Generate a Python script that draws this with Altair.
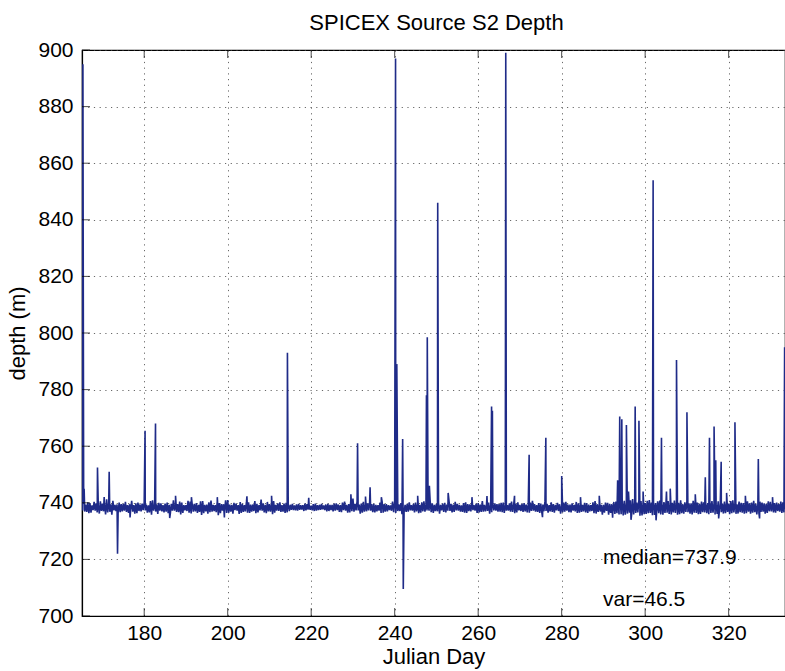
import altair as alt
import pandas as pd

# ---------------- data ----------------
days_start = 165
# four baseline readings per day (at day, +0.25, +0.5, +0.75)
base_hi = [
    740.8, 739.4, 739.9, 740.3, 739.2, 739.7, 741.2, 739.5, 739.3, 740.1,
    739.6, 739.2, 740.7, 739.8, 739.4, 740.2, 739.1, 740.9, 739.5, 739.8,
    739.7, 739.3, 740.9, 739.5, 740.1, 739.2, 740.4, 739.6, 739.3, 740.6,
    739.4, 740.8, 739.2, 739.9, 739.5, 741.0, 739.3, 739.7, 740.3, 739.2,
    740.2, 739.4, 739.6, 741.1, 739.3, 739.5, 740.6, 739.8, 739.2, 740.0,
    739.3, 739.1, 739.6, 739.2, 739.5, 739.0, 739.7, 739.3, 739.1, 739.6,
    739.3, 739.8, 739.2, 740.4, 739.5, 741.5, 740.6, 739.7, 739.3, 740.2,
    739.6, 739.2, 740.3, 739.5, 739.1, 740.2, 739.4, 740.8, 739.6, 739.2,
    740.1, 739.3, 740.5, 739.2, 739.8, 739.5, 739.3, 740.0, 741.0, 739.4,
    739.6, 739.1, 740.2, 739.4, 739.2, 739.9, 740.6, 739.4, 739.3, 739.8,
    739.5, 740.1, 739.2, 740.4, 739.6, 739.3, 739.9, 739.4, 740.7, 739.2,
    739.7, 740.5, 739.2, 739.5, 740.0, 739.1, 740.3, 739.4, 739.3, 739.8,
    739.3, 739.9, 739.2, 740.6, 739.6, 739.3, 740.0, 739.5, 740.4, 741.2,
    740.7, 739.8, 741.3, 740.1, 740.6, 739.9, 741.0, 740.2, 740.5, 739.7,
    740.3, 739.6, 740.8, 740.0, 739.5, 740.5, 739.8, 741.1, 739.6, 740.2,
    739.9, 740.6, 739.4, 740.1, 740.4, 739.7, 740.9, 739.5, 740.0, 740.3,
    739.8, 740.7, 739.4, 740.1, 739.6, 740.3, 739.9, 739.5, 740.2, 739.7,
]
base_lo2 = [
    737.3, 736.8, 736.5, 737.2, 736.2, 737.0, 736.6, 735.8, 737.1, 736.7,
    737.2, 736.4, 736.9, 736.3, 737.0, 737.3, 736.6, 737.2, 736.1, 737.0,
    736.9, 736.1, 737.2, 736.7, 736.4, 737.1, 736.2, 737.0, 736.8, 736.3,
    736.2, 736.9, 736.7, 736.3, 737.1, 736.5, 736.2, 737.2, 736.4, 737.0,
    736.4, 737.1, 736.6, 737.2, 736.3, 736.9, 736.5, 737.1, 736.9, 736.6,
    737.5, 737.3, 737.5, 737.1, 737.6, 737.3, 737.2, 737.5, 737.4, 737.1,
    737.0, 737.4, 736.7, 737.2, 736.6, 736.9, 737.3, 736.5, 737.0, 737.2,
    736.6, 737.2, 736.5, 737.0, 737.2, 736.4, 737.1, 736.7, 736.9, 737.2,
    737.0, 736.5, 736.9, 737.2, 736.4, 737.0, 737.3, 736.6, 737.1, 736.8,
    737.2, 736.8, 736.4, 737.0, 737.2, 736.6, 736.9, 737.1, 736.7, 737.2,
    736.9, 736.4, 737.2, 736.8, 736.6, 737.1, 737.0, 736.5, 737.2, 736.8,
    736.6, 737.1, 737.0, 736.5, 737.1, 736.7, 737.2, 736.6, 737.0, 736.5,
    737.0, 736.4, 737.1, 736.2, 736.9, 736.5, 735.8, 736.7, 736.3, 736.0,
    735.8, 736.5, 735.9, 736.6, 735.5, 736.1, 736.4, 735.7, 736.3, 735.8,
    736.5, 735.9, 736.4, 736.0, 736.2, 736.7, 735.9, 736.4, 736.1, 736.6,
    736.0, 736.5, 736.1, 736.7, 736.3, 736.0, 736.6, 736.2, 736.5, 736.3,
    736.2, 736.7, 736.3, 736.9, 736.4, 737.0, 736.5, 736.9, 736.6, 736.3,
]
base_hi2 = [
    739.6, 740.2, 739.1, 739.8, 740.5, 739.3, 739.9, 740.7, 739.4, 739.5,
    740.3, 739.5, 739.2, 740.1, 739.7, 739.4, 740.6, 739.3, 740.0, 739.2,
    740.1, 739.6, 739.3, 740.4, 739.2, 740.7, 739.5, 739.9, 740.5, 739.3,
    740.2, 739.3, 740.4, 739.5, 740.9, 739.4, 740.0, 739.2, 739.6, 740.4,
    739.4, 740.6, 739.2, 739.8, 740.3, 739.6, 739.3, 740.2, 739.7, 739.4,
    739.6, 739.4, 739.2, 739.7, 739.3, 739.5, 739.2, 739.6, 739.4, 739.3,
    739.7, 739.4, 740.1, 739.3, 741.0, 739.6, 739.4, 740.3, 739.8, 739.5,
    739.3, 740.1, 739.5, 739.2, 740.4, 739.6, 739.9, 739.3, 740.2, 739.6,
    739.5, 740.2, 739.4, 740.6, 739.3, 740.0, 739.7, 739.4, 739.6, 740.3,
    739.3, 739.9, 739.5, 740.3, 739.6, 739.4, 739.3, 740.1, 739.7, 739.5,
    740.0, 739.4, 739.8, 739.3, 740.2, 739.6, 739.4, 740.1, 739.5, 739.9,
    739.4, 739.6, 740.2, 739.3, 739.5, 740.1, 739.4, 739.8, 740.3, 739.5,
    740.0, 739.4, 740.2, 739.5, 739.3, 740.1, 739.6, 740.3, 739.8, 740.5,
    739.9, 740.9, 740.2, 741.0, 739.8, 740.7, 740.1, 739.9, 740.8, 740.3,
    740.6, 740.0, 739.7, 740.9, 740.2, 739.8, 740.7, 740.1, 740.4, 739.8,
    740.2, 739.8, 740.5, 739.7, 740.0, 740.6, 739.8, 740.4, 739.9, 740.5,
    740.1, 739.6, 740.4, 739.8, 740.5, 739.7, 740.1, 740.4, 739.6, 740.0,
]
base_lo = [
    736.9, 736.3, 737.4, 736.6, 737.1, 735.9, 736.8, 737.3, 736.4, 737.0,
    736.8, 737.5, 736.2, 737.1, 737.4, 736.5, 735.8, 736.9, 737.2, 736.6,
    736.3, 737.2, 736.8, 735.9, 737.3, 736.5, 736.9, 736.4, 735.7, 737.0,
    736.7, 737.1, 735.6, 737.2, 736.4, 736.9, 737.4, 736.1, 736.8, 736.5,
    736.9, 736.3, 737.3, 736.6, 737.0, 736.0, 737.2, 736.8, 736.4, 737.1,
    737.4, 737.2, 737.6, 737.3, 737.5, 737.1, 737.4, 737.7, 737.0, 737.4,
    737.2, 736.8, 737.4, 736.5, 737.0, 737.3, 736.2, 736.9, 737.3, 736.7,
    737.0, 736.4, 736.9, 737.4, 736.7, 737.1, 736.0, 736.8, 737.3, 736.6,
    736.3, 737.0, 737.3, 736.7, 737.1, 736.2, 736.8, 737.2, 736.6, 737.3,
    736.9, 736.5, 737.1, 737.4, 736.4, 736.8, 737.0, 736.2, 737.3, 736.9,
    736.7, 737.2, 736.9, 736.3, 737.3, 736.8, 736.6, 737.1, 736.9, 736.4,
    737.0, 736.5, 736.8, 737.3, 736.2, 736.9, 736.7, 737.2, 736.4, 736.8,
    736.6, 737.0, 736.3, 736.8, 735.8, 737.1, 736.4, 736.1, 735.9, 735.5,
    736.2, 735.7, 736.4, 735.4, 736.0, 736.3, 735.6, 736.7, 735.9, 736.4,
    736.1, 736.6, 735.8, 736.3, 736.8, 736.2, 736.5, 736.0, 736.7, 736.3,
    736.4, 735.9, 736.6, 736.2, 736.8, 736.3, 736.1, 736.7, 736.2, 736.9,
    736.5, 735.9, 736.8, 736.2, 737.0, 736.6, 737.1, 736.4, 736.8, 736.7,
]
spike_day = [
    165.3, 165.6, 168.8, 171.6, 173.6, 180.2, 182.7, 214.3, 231.1, 234.1,
    240.2, 240.5, 241.9, 242.05, 247.6, 247.8, 248.3, 250.3, 263.2, 263.4,
    266.6, 272.2, 276.2, 280.0, 293.4, 293.9, 294.4, 295.5, 296.0, 297.6,
    298.5, 301.9, 303.9, 305.1, 307.5, 310.0, 314.4, 315.4, 316.5, 316.9,
    318.2, 321.5, 327.1, 333.4,
    # small fringe excursions
    170.4, 176.6, 186.1, 187.5, 191.3, 197.5, 199.2, 204.6, 210.5, 219.4,
    229.5, 233.0, 236.8, 245.5, 252.8, 258.5, 262.1, 268.7, 275.4, 284.5,
    289.0, 292.2, 296.6, 299.5, 302.6, 306.0, 312.0, 317.6, 319.5, 324.0,
    327.4, 330.5,
]
spike_depth = [
    895, 745, 752.5, 751, 722, 765.5, 768, 793, 761, 745.5,
    897, 789, 762.5, 709.5, 778, 798.5, 746, 846, 774, 772.5,
    899, 757, 763, 749.5, 748, 770.5, 769.5, 767.5, 744, 774,
    769, 854, 763, 744, 790.5, 772, 749, 763, 767, 755,
    754.5, 768.5, 755.5, 795,
    742.0, 734.8, 734.6, 742.5, 742.0, 742.0, 734.8, 742.3, 742.5, 741.8,
    743.0, 742.2, 742.0, 742.5, 743.5, 742.0, 742.4, 742.5, 734.9, 742.0,
    742.5, 734.7, 734.0, 744.0, 733.8, 745.0, 743.0, 734.5, 743.5, 742.5,
    734.5, 742.0,
]
x_ticks = [180, 200, 220, 240, 260, 280, 300, 320]
y_ticks = [700, 720, 740, 760, 780, 800, 820, 840, 860, 880, 900]
notes = ["median=737.9", "var=46.5"]
note_day = [289.9, 289.9]
note_depth = [720.5, 705.5]

# ---------------- build table ----------------
pts = []
for i in range(len(base_hi)):
    d = days_start + i
    pts.append((d, base_hi[i]))
    pts.append((d + 0.25, base_lo2[i]))
    pts.append((d + 0.5, base_hi2[i]))
    pts.append((d + 0.75, base_lo[i]))
for d, v in zip(spike_day, spike_depth):
    pts.append((d + 0.01, v))
pts.sort(key=lambda p: p[0])
df = pd.DataFrame({"day": [p[0] for p in pts], "depth": [p[1] for p in pts]})
df["order"] = range(len(df))

W, H = 703, 566
FONT = "Liberation Sans"
xscale = alt.Scale(domain=[165.1, 333.5], nice=False, zero=False)
yscale = alt.Scale(domain=[700, 900], nice=False, zero=False)

line = alt.Chart(df).mark_line(color="#1f2b88", strokeWidth=1.6, clip=True).encode(
    x=alt.X("day:Q", scale=xscale,
            axis=alt.Axis(values=x_ticks, title="Julian Day", tickSize=0,
                          labelPadding=6, titlePadding=3, grid=True)),
    y=alt.Y("depth:Q", scale=yscale,
            axis=alt.Axis(values=y_ticks, title="depth (m)", tickSize=0,
                          labelPadding=9, titlePadding=8, grid=True)),
    order="order:Q",
)

xt = pd.DataFrame({"t": x_ticks})
yt = pd.DataFrame({"t": y_ticks})
bottom_ticks = alt.Chart(xt).mark_tick(orient="vertical", color="black", size=8, thickness=1).encode(
    x=alt.X("t:Q", scale=xscale), y=alt.value(H - 4))
top_ticks = alt.Chart(xt).mark_tick(orient="vertical", color="black", size=8, thickness=1).encode(
    x=alt.X("t:Q", scale=xscale), y=alt.value(4))
left_ticks = alt.Chart(yt).mark_tick(orient="horizontal", color="black", size=8, thickness=1).encode(
    y=alt.Y("t:Q", scale=yscale), x=alt.value(4))

ndf = pd.DataFrame({"label": notes, "day": note_day, "depth": note_depth})
texts = alt.Chart(ndf).mark_text(align="left", baseline="middle", font=FONT,
                                 fontSize=21, color="black").encode(
    x=alt.X("day:Q", scale=xscale), y=alt.Y("depth:Q", scale=yscale), text="label:N")

chart = alt.layer(line, bottom_ticks, top_ticks, left_ticks, texts).properties(
    width=W, height=H,
    background="white",
    title=alt.TitleParams("SPICEX Source S2 Depth", font=FONT, fontSize=22,
                          fontWeight="normal", color="black", offset=4, dx=3),
    autosize=alt.AutoSizeParams(type="none"),
    padding={"left": 82, "top": 50, "right": 0, "bottom": 55},
).configure_view(stroke="black", strokeWidth=1.2).configure_axis(
    labelFont=FONT, labelFontSize=21, labelColor="black",
    titleFont=FONT, titleFontSize=22, titleFontWeight="normal", titleColor="black",
    domainColor="black", domainWidth=1.2,
    gridColor="#444", gridDash=[1.2, 4.5], gridWidth=1, gridOpacity=0.8,
)

chart.save("out.html", embed_options={"renderer": "svg", "actions": False})
